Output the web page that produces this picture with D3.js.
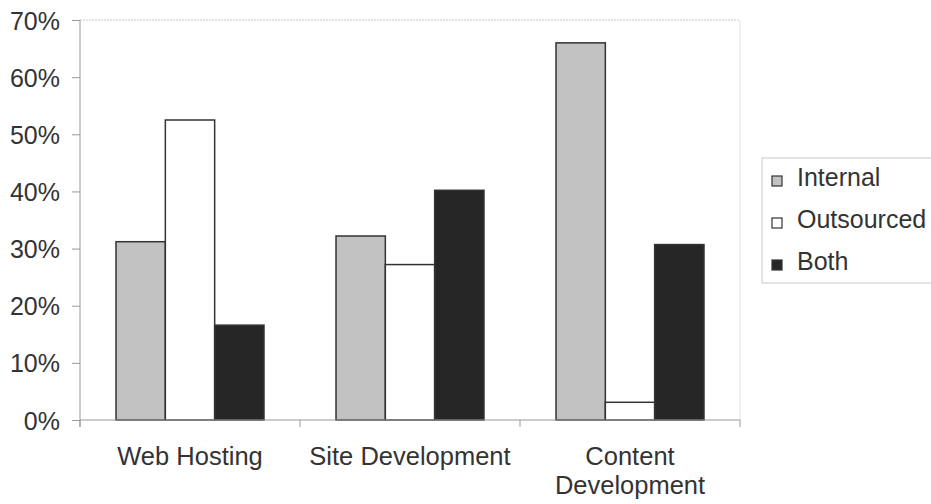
<!DOCTYPE html>
<html>
<head>
<meta charset="utf-8">
<script src="https://cdn.jsdelivr.net/npm/d3@7"></script>
<style>
  body { margin: 0; background: #fff; }
  text { font-family: "Liberation Sans", Arial, Helvetica, sans-serif; fill: #333; }
</style>
</head>
<body>
<svg id="chart" width="931" height="504"></svg>
<script>
// Chart data
var categories = ["Web Hosting", "Site Development", "Content Development"];
var categoryLines = [["Web Hosting"], ["Site Development"], ["Content", "Development"]];
var seriesNames = ["Internal", "Outsourced", "Both"];
var internalValues = [0.312, 0.322, 0.66];
var outsourcedValues = [0.525, 0.272, 0.031];
var bothValues = [0.166, 0.402, 0.307];
var yTicks = [0, 0.1, 0.2, 0.3, 0.4, 0.5, 0.6, 0.7];

var fills = {"Internal": "#c2c2c2", "Outsourced": "#ffffff", "Both": "#262626"};

var svg = d3.select("#chart");

// plot area (note: "top" is taken by window.top, so use other names)
var plotLeft = 80, plotRight = 740, plotTop = 20, plotBottom = 420;

var x0 = d3.scaleBand().domain(categories).range([plotLeft, plotRight]).padding(0);
var x1 = d3.scaleBand().domain(seriesNames).range([0, x0.bandwidth()]).paddingOuter(0.73);
var y = d3.scaleLinear().domain([0, 0.7]).range([plotBottom, plotTop]);

// build rows for each bar
var rows = [];
categories.forEach((c, i) => {
    rows.push({cat: c, s: "Internal", v: internalValues[i]});
    rows.push({cat: c, s: "Outsourced", v: outsourcedValues[i]});
    rows.push({cat: c, s: "Both", v: bothValues[i]});
});

// plot border (top + right)
svg.append("line")
    .attr("x1", plotLeft).attr("x2", plotRight)
    .attr("y1", y(0.7)).attr("y2", y(0.7))
    .attr("stroke", "#c8c8c8").attr("stroke-dasharray", "2,1");
svg.append("line")
    .attr("x1", plotRight).attr("x2", plotRight)
    .attr("y1", y(0.7)).attr("y2", plotBottom)
    .attr("stroke", "#e0e0e0");

// bars
svg.selectAll("rect.bar")
    .data(rows)
    .join("rect")
    .attr("class", "bar")
    .attr("x", d => x0(d.cat) + x1(d.s))
    .attr("y", d => y(d.v))
    .attr("width", x1.bandwidth())
    .attr("height", d => y(0) - y(d.v))
    .attr("fill", d => fills[d.s])
    .attr("stroke", "#333")
    .attr("stroke-width", 1.5);

// y axis
var yAxis = d3.axisLeft(y).tickValues(yTicks).tickFormat(d3.format(".0%")).tickSize(8).tickPadding(12);
var gy = svg.append("g").attr("transform", "translate(" + plotLeft + ",0)").call(yAxis);
gy.select(".domain").attr("stroke", "#999").attr("d", "M0," + plotTop + "V" + (plotBottom + 7));
gy.selectAll(".tick line").attr("stroke", "#999");
gy.selectAll(".tick text")
    .style("font-size", "25px")
    .style("font-family", "'Liberation Sans', Arial, sans-serif")
    .attr("fill", "#333")
    .attr("dy", "0.36em");

// x axis line and category ticks
var xAxis = d3.axisBottom(x0).tickSize(0).tickFormat("");
var gx = svg.append("g").attr("transform", "translate(0," + plotBottom + ")").call(xAxis);
gx.select(".domain").attr("stroke", "#999").attr("d", "M" + plotLeft + ",0H" + plotRight);
var edges = categories.map(c => x0(c)).concat([plotRight]);
gx.selectAll("line.cattick")
    .data(edges)
    .join("line")
    .attr("class", "cattick")
    .attr("x1", d => d).attr("x2", d => d)
    .attr("y1", 0).attr("y2", 7)
    .attr("stroke", "#999");

// category labels
categoryLines.forEach((lines, i) => {
    var cx = x0(categories[i]) + x0.bandwidth() / 2;
    lines.forEach((t, j) => {
        svg.append("text")
            .attr("x", cx)
            .attr("y", 465 + j * 29)
            .attr("text-anchor", "middle")
            .style("font-size", "25.5px")
            .text(t);
    });
});

// legend
var legend = svg.append("g");
legend.append("rect")
    .attr("x", 762).attr("y", 158)
    .attr("width", 190).attr("height", 125)
    .attr("fill", "#fff")
    .attr("stroke", "#c8c8c8");
seriesNames.forEach((s, i) => {
    var ly = 186 + i * 42;
    legend.append("rect")
        .attr("x", 772).attr("y", ly - 10)
        .attr("width", 10).attr("height", 10)
        .attr("fill", fills[s])
        .attr("stroke", "#333")
        .attr("stroke-width", 1.2);
    legend.append("text")
        .attr("x", 797).attr("y", ly)
        .style("font-size", "25px")
        .text(s);
});
</script>
</body>
</html>
